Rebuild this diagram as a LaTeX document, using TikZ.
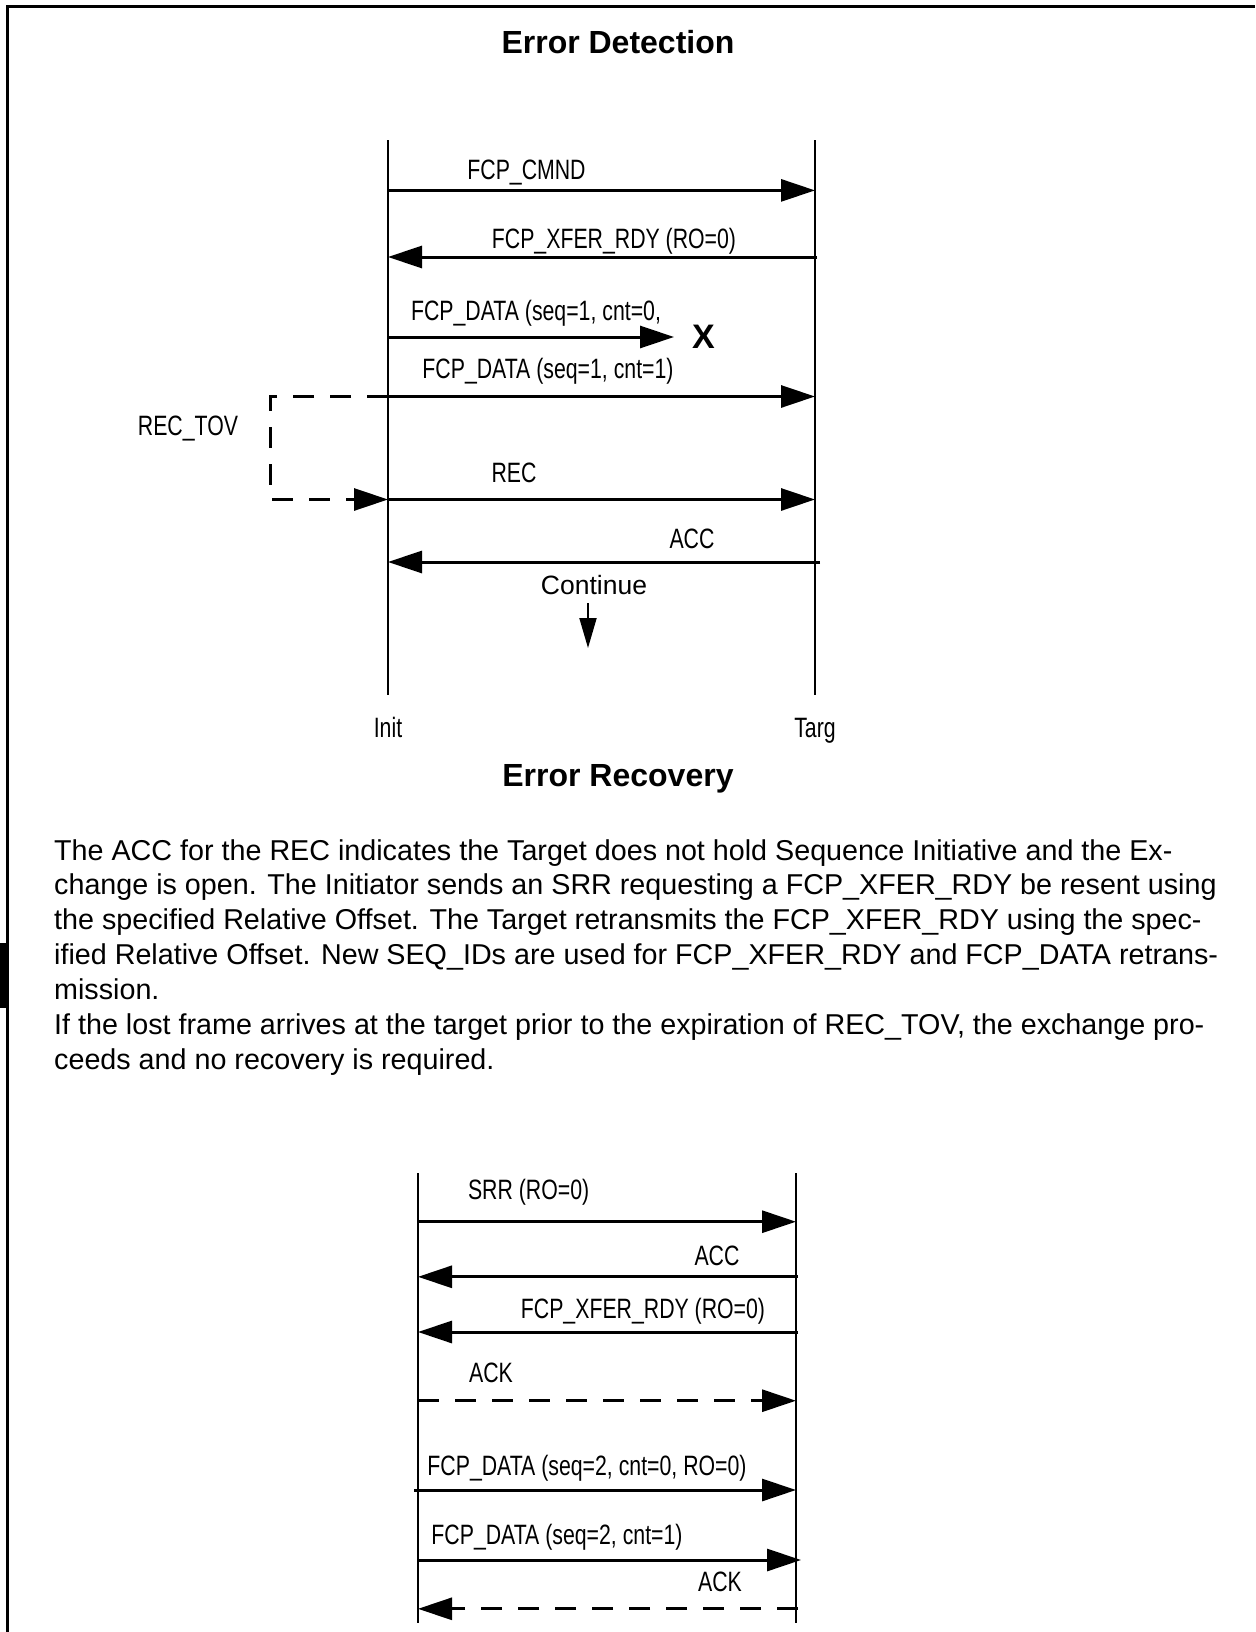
\documentclass[tikz,border=0pt]{standalone}
\usepackage{fontspec}
\setmainfont{Liberation Sans}
\newfontfamily\narrowsf[FakeStretch=0.76]{Liberation Sans}
\usetikzlibrary{arrows.meta}

\begin{document}
\begin{tikzpicture}[x=1pt,y=-1pt,
  lbl/.style={anchor=base,inner sep=0pt,font=\narrowsf\fontsize{28}{30}\selectfont},
  hdr/.style={anchor=base,inner sep=0pt,font=\bfseries\fontsize{32}{36}\selectfont},
  msg/.style={line width=3pt,-{Triangle[length=34pt,width=22pt]}},
  ackmsg/.style={msg,dash pattern=on 21pt off 16pt},
  life/.style={line width=2.8pt}]
\useasboundingbox (0,0) rectangle (1255,1632);
% page frame and change bar
\draw[line width=3pt] (7.5,1632) -- (7.5,6.5) -- (1255,6.5);
\fill (0,943) rectangle (6,1008);

% --- error detection ---
\node[hdr] (hdet) at (618,53.5) {Error Detection};
\coordinate (initTop) at (388,140.5);
\coordinate (initBot) at (388,695);
\coordinate (targTop) at (815,140.5);
\coordinate (targBot) at (815,695);
\draw[life] (initTop) -- (initBot);
\draw[life] (targTop) -- (targBot);
\node[lbl] (init) at (388,737) {Init};
\node[lbl] (targ) at (815,737) {Targ};

\foreach \n/\y in {cmnd/190.4,xfer/257,data0/337,data1/396.5,rec/499.5,acc/562}
  {\coordinate (i\n) at (388,\y); \coordinate (t\n) at (815,\y);}
\coordinate (lost) at (674,337);
\coordinate (tovTop) at (270.5,396.5);
\coordinate (tovBot) at (270.5,499.5);

\draw[msg] (icmnd) -- (tcmnd);
\draw[msg] ([xshift=2pt]txfer) -- (ixfer);
\draw[msg] (idata0) -- (lost);
\draw[msg] (idata1) -- (tdata1);
\draw[ackmsg] (idata1) -- (tovTop) -- (tovBot) -- (irec);
\draw[msg] (irec) -- (trec);
\draw[msg] ([xshift=5pt]tacc) -- (iacc);

\node[lbl] (lcmnd) at (526.5,179) {FCP\_CMND};
\node[lbl] (lxfer) at (614,248) {FCP\_XFER\_RDY (RO=0)};
\node[lbl] (ldata0) at (536,320) {FCP\_DATA (seq=1, cnt=0,};
\node[anchor=center,inner sep=0pt,font=\bfseries\fontsize{34}{36}\selectfont] (xlost) at (703.5,337) {X};
\node[lbl] (ldata1) at (548,378) {FCP\_DATA (seq=1, cnt=1)};
\node[lbl] (ltov) at (188,435) {REC\_TOV};
\node[lbl] (lrec) at (514,482) {REC};
\node[lbl] (lacc) at (692,548) {ACC};

\node[anchor=base,inner sep=0pt,font=\fontsize{26.5}{30}\selectfont] (cont) at (594,594) {Continue};
\coordinate (contA) at (588,603);
\coordinate (contB) at (588,648);
\draw[line width=2pt,-{Triangle[length=30pt,width=17pt]}] (contA) -- (contB);

% --- error recovery ---
\node[hdr] (hrec) at (618,786.5) {Error Recovery};
\node[anchor=north west,inner sep=0pt,align=left,font=\fontsize{28.7}{34.9}\selectfont] (txt) at (54,839) {The ACC for the REC indicates the Target does not hold Sequence Initiative and the Ex-\\
change is open. The Initiator sends an SRR requesting a FCP\_XFER\_RDY be resent using\\
the specified Relative Offset. The Target retransmits the FCP\_XFER\_RDY using the spec-\\
ified Relative Offset. New SEQ\_IDs are used for FCP\_XFER\_RDY and FCP\_DATA retrans-\\
mission.\\
If the lost frame arrives at the target prior to the expiration of REC\_TOV, the exchange pro-\\
ceeds and no recovery is required.};

\coordinate (rinitTop) at (418,1173);
\coordinate (rinitBot) at (418,1623);
\coordinate (rtargTop) at (796,1173);
\coordinate (rtargBot) at (796,1623);
\draw[life] (rinitTop) -- (rinitBot);
\draw[life] (rtargTop) -- (rtargBot);

\foreach \n/\y in {srr/1221.7,acc/1276.8,xfer/1332,ack/1400.7,data0/1490,data1/1560,ack2/1608.8}
  {\coordinate (ri\n) at (418,\y); \coordinate (rt\n) at (796,\y);}

\draw[msg] (risrr) -- (rtsrr);
\draw[msg] ([xshift=2pt]rtacc) -- (riacc);
\draw[msg] ([xshift=2pt]rtxfer) -- (rixfer);
\draw[ackmsg] (riack) -- (rtack);
\draw[msg] ([xshift=-4pt]ridata0) -- (rtdata0);
\draw[msg] (ridata1) -- ([xshift=5pt]rtdata1);
\draw[ackmsg] ([xshift=2pt]rtack2) -- (riack2);

\node[lbl] (lsrr) at (528.6,1199) {SRR (RO=0)};
\node[lbl] (lracc) at (717,1265) {ACC};
\node[lbl] (lrxfer) at (643,1318) {FCP\_XFER\_RDY (RO=0)};
\node[lbl] (lack) at (491,1382.6) {ACK};
\node[lbl] (lrdata0) at (587,1475) {FCP\_DATA (seq=2, cnt=0, RO=0)};
\node[lbl] (lrdata1) at (557,1544) {FCP\_DATA (seq=2, cnt=1)};
\node[lbl] (lack2) at (720,1591) {ACK};
\end{tikzpicture}
\end{document}
